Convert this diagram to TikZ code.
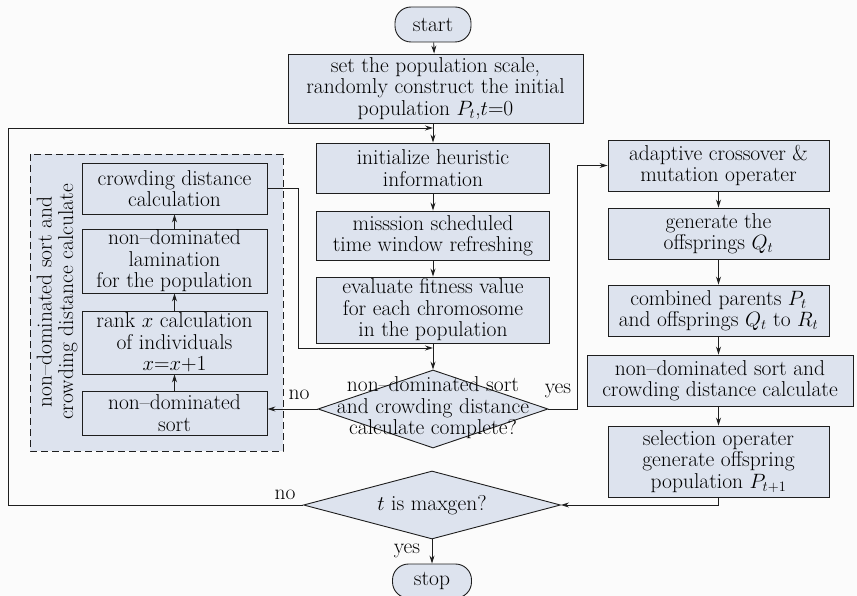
\documentclass[tikz,border=0pt]{standalone}
\usetikzlibrary{shapes.geometric,arrows.meta}
\definecolor{boxfill}{RGB}{221,227,238}
\definecolor{linec}{RGB}{30,30,30}
\definecolor{bgc}{RGB}{251,251,251}
\begin{document}
\begin{tikzpicture}[x=1pt,y=-1pt,
  font=\fontsize{21.5}{21.5}\selectfont, text=black,
  box/.style={draw=linec, fill=boxfill, line width=0.9pt, inner sep=0pt, align=center},
  term/.style={box, rounded corners=16pt},
  dia/.style={draw=linec, fill=boxfill, line width=0.9pt, diamond, inner sep=0pt},
  arr/.style={draw=linec, line width=0.9pt, -{Stealth[length=8pt,width=5pt]}},
  lbl/.style={inner sep=0pt, text=black}]
\fill[bgc] (0,0) rectangle (857,596);
\useasboundingbox (0,0) rectangle (857,596);

% dashed group
\draw[draw=linec, fill=boxfill, line width=0.9pt, dash pattern=on 7pt off 4pt] (30,154) rectangle (283,451);
\node[lbl, rotate=90, align=center] (grp) at (57,302) {non--dominated sort and\\crowding distance calculate};

% main column
\node[term, minimum width=76pt, minimum height=35pt] (start) at (433,24.5) {start};
\node[box, minimum width=295pt, minimum height=69pt] (set) at (435.5,88.5) {set the population scale,\\randomly construct the initial\\population $P_t$,$t$=0};
\node[box, minimum width=233pt, minimum height=50pt] (init) at (433,168) {initialize heuristic\\information};
\node[box, minimum width=233pt, minimum height=49pt] (miss) at (433,235.5) {misssion scheduled\\time window refreshing};
\node[box, minimum width=233pt, minimum height=66pt] (eval) at (433,310) {evaluate fitness value\\for each chromosome\\in the population};
\node[dia, minimum width=230pt, minimum height=78pt] (d1) at (433,409) {};
\node[lbl, align=center] (d1t) at (433,408) {non--dominated sort\\and crowding distance\\calculate complete?};
\node[dia, minimum width=257pt, minimum height=68pt] (d2) at (432,505) {};
\node[lbl] (d2t) at (432,505) {$t$ is maxgen?};
\node[term, minimum width=79pt, minimum height=34pt] (stop) at (432,581) {stop};

% inner group boxes
\node[box, minimum width=185pt, minimum height=51pt] (crowd) at (174.5,188.5) {crowding distance\\calculation};
\node[box, minimum width=185pt, minimum height=64pt] (lam) at (174.5,261) {non--dominated\\lamination\\for the population};
\node[box, minimum width=185pt, minimum height=63pt] (rank) at (174.5,342.5) {rank $x$ calculation\\of individuals\\$x$=$x$+1};
\node[box, minimum width=185pt, minimum height=44pt] (nds) at (174.5,413) {non--dominated\\sort};

% right column
\node[box, minimum width=221pt, minimum height=51pt] (adapt) at (718.5,165.5) {adaptive crossover \&\\mutation operater};
\node[box, minimum width=221pt, minimum height=51pt] (gen) at (718.5,233.5) {generate the\\offsprings $Q_t$};
\node[box, minimum width=221pt, minimum height=51pt] (comb) at (718.5,310.5) {combined parents $P_t$\\and offsprings $Q_t$ to $R_t$};
\node[box, minimum width=266pt, minimum height=51pt] (nds2) at (720,380.5) {non--dominated sort and\\crowding distance calculate};
\node[box, minimum width=221pt, minimum height=71pt] (sel) at (718.5,461.5) {selection operater\\generate offspring\\population $P_{t+1}$};

% junction coordinates
\coordinate (j1) at (433,128);
\coordinate (j2) at (433,348);

% connectors main column
\draw[arr] (start) -- (set);
\draw[arr] (set.south -| init.north) -- (init);
\draw[arr] (init) -- (miss);
\draw[arr] (miss) -- (eval);
\draw[arr] (eval) -- (d1.north);
\draw[arr] (d1.west) -- (d1.west -| nds.east);
\draw[arr] (d1.east) -- ++(29,0) |- (adapt.west);
\draw[arr] (d2.west) -- ++(-295,0) |- (j1);
\draw[arr] (d2.south) -- (stop.north);

% inner group
\draw[arr] (nds) -- (rank);
\draw[arr] (rank) -- (lam);
\draw[arr] (lam) -- (crowd);
\draw[arr] (crowd.east) -- ++(31,0) |- (j2);

% right column
\draw[arr] (adapt) -- (gen);
\draw[arr] (gen) -- (comb);
\draw[arr] (comb.south) -- (comb.south |- nds2.north);
\draw[arr] (nds2.south -| sel.north) -- (sel.north);
\draw[arr] (sel.south) |- (d2.east);

% labels
\node[lbl] (no1) at (299,395) {no};
\node[lbl] (yes1) at (558,391) {yes};
\node[lbl] (no2) at (285,495) {no};
\node[lbl] (yes2) at (407,551) {yes};
\end{tikzpicture}
\end{document}
